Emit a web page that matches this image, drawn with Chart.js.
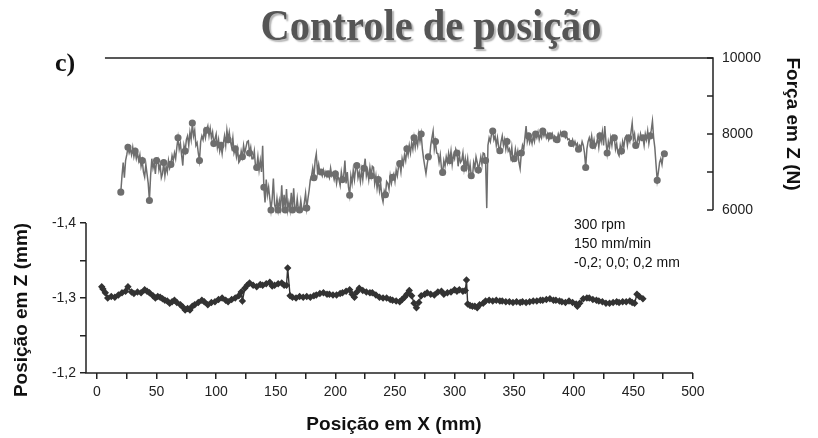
<!DOCTYPE html>
<html>
<head>
<meta charset="utf-8">
<script src="https://cdn.jsdelivr.net/npm/chart.js@4/dist/chart.umd.min.js"></script>
<style>
  html, body { margin: 0; padding: 0; background: #fff; }
</style>
</head>
<body>
<canvas id="grafico" width="818" height="438"></canvas>
<script>
// Textos del gráfico
const titulo = "Controle de posição";
const etiqueta = "c)";
const tituloX = "Posição em X (mm)";
const tituloZ = "Posição em Z (mm)";
const tituloF = "Força em Z (N)";
const notas = ["300 rpm", "150 mm/min", "-0,2; 0,0; 0,2 mm"];

// Ticks de los ejes
const ticksX = [0, 25, 50, 75, 100, 125, 150, 175, 200, 225, 250, 275, 300, 325, 350, 375, 400, 425, 450, 475, 500];
const ticksZ = [-1.4, -1.35, -1.3, -1.25, -1.2];
const ticksF = [6000, 7000, 8000, 9000, 10000];

// Fuerza en Z (N), una lectura por mm desde x = 20 mm
const fuerzaInicio = 20;
const fuerzaN = [
  6470, 6900, 7250, 6850, 7300, 7450, 7650, 7500, 7600, 7450,
  7650, 7400, 7550, 7350, 7500, 7300, 7450, 7150, 7300, 7000,
  6870, 7200, 6950, 6700, 6250, 6900, 7350, 7100, 7250, 6950,
  7300, 7350, 7050, 7200, 6850, 6960, 7250, 6900, 7150, 7000,
  7300, 7100, 7200, 7430, 7300, 7500, 7350, 7650, 7900, 7600,
  7750, 7450, 7170, 7700, 7550, 7850, 7950, 7700, 8050, 7850,
  8290, 7950, 8100, 7700, 7770, 7500, 7300, 7800, 7950, 7850,
  8080, 7900, 8100, 8210, 7950, 8150, 7900, 8050, 7750, 7870,
  8000, 7650, 7850, 7550, 7700, 7480, 7750, 7950, 7700, 8100,
  7850, 8050, 7800, 7650, 7900, 7500, 7610, 7400, 7600, 7250,
  7300, 7550, 7400, 7700, 7500, 7650, 7800, 7820, 7500, 7650,
  7350, 7350, 7550, 7150, 7120, 7400, 7050, 7300, 7000, 7690,
  6600, 6200, 6800, 6400, 6600, 6300, 6000, 6300, 6830, 6150,
  6000, 6300, 6000, 6250, 6050, 6650, 6000, 6400, 6000, 6550,
  6000, 6200, 6000, 6450, 6000, 6570, 6050, 6000, 6300, 6000,
  6000, 6250, 6000, 6000, 6200, 6440, 6050, 6300, 6520, 6800,
  6900, 7100, 6850, 7300, 7480, 7000, 7200, 6990, 7000, 6900,
  7050, 6900, 7000, 6880, 6950, 6850, 7100, 6900, 6960, 6800,
  6950, 6700, 6900, 6800, 6650, 7000, 6800, 6900, 7300, 6700,
  7000, 6600, 6390, 6900, 6700, 7050, 6800, 7100, 7170, 6850,
  7000, 6750, 7050, 6800, 7100, 7350, 6900, 7050, 6800, 7120,
  6900, 7150, 7120, 6700, 6900, 6570, 6800, 6500, 6700, 6350,
  6210, 6500, 6400, 6750, 6700, 6550, 6900, 6700, 6860, 6950,
  6750, 7050, 6900, 7150, 7220, 7000, 7350, 7200, 7450, 7300,
  7610, 7450, 7700, 7500, 7770, 7600, 7900, 7650, 7870, 7700,
  8000, 7800, 8000, 7600, 7350, 7150, 6960, 7200, 7400, 7350,
  7700, 7900, 8080, 7600, 7800, 7500, 7480, 7250, 7450, 7100,
  6990, 7300, 7150, 7400, 7250, 7500, 7300, 7550, 7200, 7450,
  7350, 7600, 7500, 7150, 7450, 7250, 7300, 7500, 7100, 7350,
  7120, 7350, 7000, 7200, 6900, 6860, 7250, 7100, 7400, 7250,
  7050, 7220, 7400, 7200, 7500, 7480, 7300, 6050, 7700, 7900,
  7800, 8000, 8080, 7850, 7950, 7700, 7900, 7650, 7560, 7800,
  7950, 7700, 7850, 7600, 7800, 7550, 7610, 7400, 7650, 7300,
  7350, 7600, 7400, 7550, 7250, 7090, 7500, 7700, 7600, 7900,
  8210, 7800, 7950, 7770, 7900, 7750, 7950, 7800, 8000, 7900,
  8050, 7850, 8000, 7900, 8080, 7950, 8050, 7900, 8000, 7850,
  7950, 7900, 8000, 7850, 7950, 7900, 7850, 8000, 7900, 8050,
  7950, 8000, 8000, 7900, 7950, 7850, 7870, 7800, 7750, 7850,
  7700, 7800, 7690, 7750, 7600, 7700, 7640, 7800, 7700, 7500,
  7120, 7600, 7800, 7900, 7750, 7950, 7700, 7850, 7650, 7740,
  7900, 7650, 7950, 7800, 8050, 7700, 8210, 7800, 7500, 7800,
  7650, 7900, 7700, 7950, 7900, 7600, 7750, 7500, 7430, 7700,
  7550, 7800, 7650, 7900, 7950, 7700, 7900, 7800, 8050, 8290,
  7850, 8000, 7700, 7770, 7950, 7800, 8000, 7850, 7900, 7700,
  8000, 7850, 8080, 7750, 7950, 8100, 8340, 7900, 7640, 7200,
  6780, 7000, 7250, 7350, 7200, 7450, 7480
];
const fuerzaX = fuerzaN.map((_, i) => fuerzaInicio + i);

// Posición en Z (mm)
const posX = [
  4, 5, 7, 9, 12, 15, 18, 21, 24, 26, 29, 31, 34, 37, 40, 42, 44, 47, 49, 51,
  53, 55, 57, 59, 61, 63, 65, 67, 70, 72, 74, 76, 78, 80, 82, 85, 88, 90, 93, 96,
  99, 102, 105, 108, 110, 113, 116, 119, 121, 122, 124, 126, 128, 131, 134, 137, 139, 142, 145, 147,
  149, 152, 155, 157, 159, 160, 162, 164, 167, 170, 173, 176, 179, 182, 184, 187, 190, 193, 195, 198,
  201, 204, 206, 209, 212, 214, 216, 218, 220, 223, 226, 229, 231, 234, 237, 240, 243, 246, 248, 251,
  254, 256, 258, 260, 262, 264, 266, 268, 270, 272, 275, 277, 280, 283, 286, 289, 291, 294, 297, 300,
  302, 304, 307, 309, 310, 311, 313, 315, 317, 319, 321, 324, 326, 329, 332, 335, 338, 340, 343, 346,
  349, 352, 355, 357, 360, 363, 366, 369, 372, 374, 377, 380, 383, 385, 388, 390, 393, 396, 399, 402,
  403, 405, 408, 411, 413, 416, 419, 421, 424, 427, 430, 433, 436, 438, 441, 444, 447, 449, 451, 453,
  455, 458
];
const posZ = [
  -1.315, -1.312, -1.307, -1.300, -1.302, -1.301, -1.304, -1.307, -1.309, -1.315, -1.308, -1.306, -1.308, -1.307, -1.311, -1.309, -1.307, -1.303, -1.300, -1.302,
  -1.301, -1.299, -1.297, -1.296, -1.293, -1.295, -1.297, -1.294, -1.291, -1.288, -1.284, -1.286, -1.284, -1.289, -1.291, -1.294, -1.297, -1.295, -1.291, -1.294,
  -1.295, -1.298, -1.300, -1.297, -1.295, -1.298, -1.300, -1.303, -1.308, -1.296, -1.313, -1.317, -1.320, -1.317, -1.315, -1.318, -1.317, -1.319, -1.321, -1.316,
  -1.317, -1.319, -1.320, -1.317, -1.317, -1.340, -1.303, -1.301, -1.300, -1.302, -1.301, -1.302, -1.301, -1.303, -1.304, -1.306, -1.307, -1.305, -1.305, -1.304,
  -1.304, -1.306, -1.307, -1.309, -1.311, -1.305, -1.301, -1.308, -1.313, -1.310, -1.308, -1.307, -1.307, -1.304, -1.301, -1.300, -1.300, -1.298, -1.297, -1.296,
  -1.295, -1.298, -1.301, -1.305, -1.310, -1.303, -1.293, -1.287, -1.294, -1.303, -1.305, -1.307, -1.305, -1.304, -1.308, -1.309, -1.305, -1.307, -1.308, -1.311,
  -1.309, -1.311, -1.309, -1.310, -1.324, -1.292, -1.290, -1.289, -1.289, -1.287, -1.291, -1.293, -1.296, -1.297, -1.296, -1.297, -1.296, -1.296, -1.295, -1.295,
  -1.294, -1.295, -1.294, -1.295, -1.294, -1.295, -1.296, -1.296, -1.297, -1.297, -1.298, -1.299, -1.297, -1.297, -1.296, -1.295, -1.294, -1.296, -1.294, -1.292,
  -1.289, -1.293, -1.299, -1.300, -1.300, -1.298, -1.297, -1.296, -1.295, -1.293, -1.293, -1.294, -1.295, -1.294, -1.295, -1.295, -1.296, -1.294, -1.293, -1.305,
  -1.302, -1.299
];

const fuente = "'Liberation Sans', Arial, sans-serif";
const serif = "'Liberation Serif', 'Times New Roman', serif";

// Dibujar ejes parciales, títulos y notas
const decoracion = {
  id: "decoracion",
  afterDraw(chart) {
    const { ctx, chartArea, scales } = chart;
    const x = scales.x, z = scales.z, f = scales.f;
    ctx.save();
    ctx.strokeStyle = "#222";
    ctx.lineWidth = 1.5;

    // eje izquierdo y eje inferior
    ctx.beginPath();
    ctx.moveTo(chartArea.left, z.getPixelForValue(-1.4));
    ctx.lineTo(chartArea.left, z.getPixelForValue(-1.2));
    ctx.lineTo(x.getPixelForValue(500), chartArea.bottom);
    ctx.stroke();

    // eje derecho con la línea superior
    const yTop = f.getPixelForValue(10000);
    ctx.beginPath();
    ctx.moveTo(x.getPixelForValue(6.7), yTop);
    ctx.lineTo(chartArea.right, yTop);
    ctx.lineTo(chartArea.right, f.getPixelForValue(6000));
    ctx.stroke();
    ticksF.forEach(v => {
      const y = f.getPixelForValue(v);
      ctx.beginPath();
      ctx.moveTo(chartArea.right - 6, y);
      ctx.lineTo(chartArea.right, y);
      ctx.stroke();
    });

    // título con sombra
    ctx.save();
    ctx.translate(431, 40);
    ctx.scale(0.9, 1);
    ctx.font = "bold 45px " + serif;
    ctx.textAlign = "center";
    ctx.textBaseline = "alphabetic";
    ctx.shadowColor = "rgba(0,0,0,0.3)";
    ctx.shadowOffsetX = 2;
    ctx.shadowOffsetY = 2;
    ctx.shadowBlur = 1.5;
    ctx.fillStyle = "#555";
    ctx.fillText(titulo, 0, 0);
    ctx.restore();

    ctx.fillStyle = "#111";
    ctx.font = "bold 26px " + serif;
    ctx.textAlign = "left";
    ctx.fillText(etiqueta, 55, 71);

    // títulos de ejes
    ctx.font = "bold 19px " + fuente;
    ctx.textAlign = "center";
    ctx.textBaseline = "middle";
    ctx.fillText(tituloX, 394, 425);

    ctx.save();
    ctx.translate(22, 310);
    ctx.rotate(-Math.PI / 2);
    ctx.fillText(tituloZ, 0, 0);
    ctx.restore();

    ctx.save();
    ctx.translate(792, 124);
    ctx.rotate(Math.PI / 2);
    ctx.fillText(tituloF, 0, 0);
    ctx.restore();

    // notas de ensayo
    ctx.font = "14px " + fuente;
    ctx.textAlign = "left";
    notas.forEach((t, i) => ctx.fillText(t, 574, 225 + i * 19));
    ctx.restore();
  }
};

const estiloTicks = { color: "#222", font: { family: fuente, size: 14 }, autoSkip: false, maxRotation: 0 };

new Chart(document.getElementById("grafico"), {
  type: "line",
  data: {
    datasets: [
      {
        label: tituloF,
        data: fuerzaN.map((v, i) => ({ x: fuerzaX[i], y: v })),
        yAxisID: "f",
        borderColor: "#6e6e6e",
        backgroundColor: "#6e6e6e",
        borderWidth: 1.5,
        pointRadius: c => (c.dataIndex % 6 === 0 ? 2.8 : 0),
        pointStyle: "circle",
        tension: 0
      },
      {
        label: tituloZ,
        data: posZ.map((v, i) => ({ x: posX[i], y: v })),
        yAxisID: "z",
        borderColor: "#333",
        backgroundColor: "#333",
        borderWidth: 1.4,
        pointRadius: 2.7,
        pointStyle: "rectRot",
        tension: 0
      }
    ]
  },
  options: {
    responsive: false,
    animation: false,
    devicePixelRatio: 1,
    layout: { padding: { top: 58, left: 0, right: 0, bottom: 0 } },
    plugins: { legend: { display: false }, tooltip: { enabled: false } },
    scales: {
      x: {
        type: "linear",
        position: "bottom",
        min: -9.2,
        max: 516.8,
        afterBuildTicks: s => { s.ticks = ticksX.map(v => ({ value: v })); },
        afterFit: s => { s.height = 65; },
        ticks: { ...estiloTicks, padding: 5, callback: v => (v % 50 === 0 ? String(v) : "") },
        grid: { drawOnChartArea: false, drawTicks: true, tickLength: 6, color: "#222", lineWidth: 1.5 },
        border: { display: false }
      },
      z: {
        type: "linear",
        position: "left",
        reverse: true,
        min: -1.62,
        max: -1.2,
        afterBuildTicks: s => { s.ticks = ticksZ.map(v => ({ value: v })); },
        afterFit: s => { s.width = 86; },
        ticks: { ...estiloTicks, padding: 4, callback: (v, i) => (i % 2 === 0 ? v.toFixed(1).replace(".", ",") : "") },
        grid: { drawOnChartArea: false, drawTicks: true, tickLength: 6, color: "#222", lineWidth: 1.5 },
        border: { display: false }
      },
      f: {
        type: "linear",
        position: "right",
        min: 1711,
        max: 10000,
        afterBuildTicks: s => { s.ticks = ticksF.map(v => ({ value: v })); },
        afterFit: s => { s.width = 105; },
        ticks: { ...estiloTicks, padding: 9, callback: v => (v % 2000 === 0 ? String(v) : "") },
        grid: { drawOnChartArea: false, drawTicks: false },
        border: { display: false }
      }
    }
  },
  plugins: [decoracion]
});
</script>
</body>
</html>
